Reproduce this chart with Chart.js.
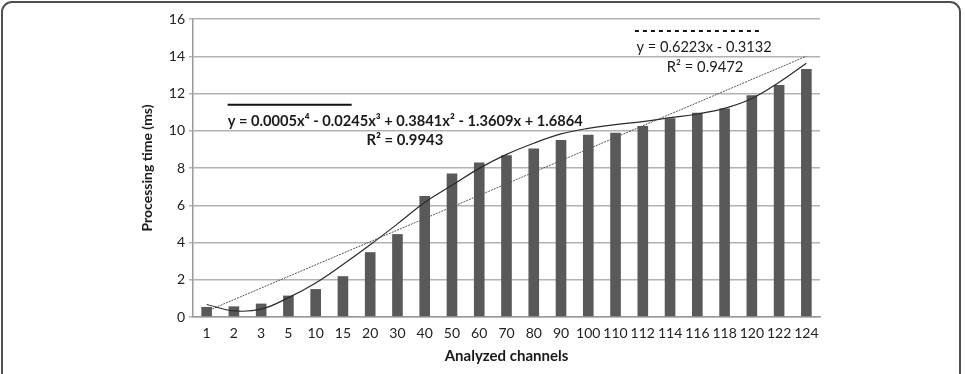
<!DOCTYPE html>
<html>
<head>
<meta charset="utf-8">
<script src="https://cdn.jsdelivr.net/npm/chart.js@4"></script>
<style>
  html, body { margin: 0; padding: 0; background: #fff; }
  #wrap { position: relative; width: 965px; height: 374px; overflow: hidden; }
  #frame {
    position: absolute; left: 1px; top: 1px; width: 960px; height: 420px;
    border: 2px solid #505050; border-radius: 11px; box-sizing: border-box;
  }
  #chart { position: absolute; left: 0; top: 0; }
</style>
</head>
<body>
<div id="wrap">
  <div id="frame"></div>
  <canvas id="chart" width="965" height="374"></canvas>
</div>
<script>
(function () {
  "use strict";

  // ── Data ───────────────────────────────────────────────────────
  var channels = ["1", "2", "3", "5", "10", "15", "20", "30", "40", "50", "60", "70",
    "80", "90", "100", "110", "112", "114", "116", "118", "120", "122", "124"];
  var timeMs = [0.54, 0.57, 0.72, 1.15, 1.5, 2.19, 3.48, 4.45, 6.49, 7.71, 8.3, 8.68,
    9.05, 9.5, 9.78, 9.89, 10.25, 10.67, 10.97, 11.2, 11.9, 12.46, 13.32];
  var polyTrend = [0.67, 0.33, 0.42, 1.04, 1.83, 2.82, 3.88, 5.0, 6.15, 7.07, 7.98, 8.73,
    9.33, 9.83, 10.13, 10.33, 10.49, 10.7, 10.9, 11.2, 11.73, 12.6, 13.63];
  var linearTrendEnds = [0.31, 14.0];
  var yTicks = { min: 0, max: 16, step: 2 };
  var polyLabel = ["y = 0.0005x\u2074 - 0.0245x\u00b3 + 0.3841x\u00b2 - 1.3609x + 1.6864", "R\u00b2 = 0.9943"];
  var linearLabel = ["y = 0.6223x - 0.3132", "R\u00b2 = 0.9472"];

  var FONT = "Lato, 'Open Sans', sans-serif";
  var n = channels.length;
  var linearData = channels.map(function (_, i) {
    return i === 0 ? linearTrendEnds[0] : (i === n - 1 ? linearTrendEnds[1] : null);
  });

  // text stretched to the width it takes in the figure (x in category units)
  function fitText(ctx, text, weight, x, y, i0, i1, v) {
    var a = x.getPixelForValue(i0), b = x.getPixelForValue(i1);
    ctx.font = weight + " 14px " + FONT;
    var size = 14 * (b - a) / ctx.measureText(text).width;
    ctx.font = weight + " " + size.toFixed(2) + "px " + FONT;
    ctx.fillText(text, (a + b) / 2, y.getPixelForValue(v));
  }

  // ── Equation labels drawn from scale positions ────────────────
  var trendLabels = {
    id: "trendLabels",
    afterDatasetsDraw: function (chart) {
      var ctx = chart.ctx, x = chart.scales.x, y = chart.scales.y;
      ctx.save();
      ctx.fillStyle = "#1a1a1a";
      ctx.strokeStyle = "#111";
      ctx.textAlign = "center";
      ctx.textBaseline = "middle";

      // polynomial: solid key + bold text
      ctx.lineWidth = 2;
      ctx.beginPath();
      ctx.moveTo(x.getPixelForValue(0.77), y.getPixelForValue(11.4));
      ctx.lineTo(x.getPixelForValue(5.32), y.getPixelForValue(11.4));
      ctx.stroke();
      fitText(ctx, polyLabel[0], "bold", x, y, 0.77, 13.8, 10.5);
      fitText(ctx, polyLabel[1], "bold", x, y, 5.86, 8.68, 9.5);

      // linear: dashed key + regular text
      ctx.setLineDash([4, 4]);
      ctx.beginPath();
      ctx.moveTo(x.getPixelForValue(15.71), y.getPixelForValue(15.35));
      ctx.lineTo(x.getPixelForValue(20.3), y.getPixelForValue(15.35));
      ctx.stroke();
      ctx.setLineDash([]);
      fitText(ctx, linearLabel[0], "normal", x, y, 15.77, 20.73, 14.5);
      fitText(ctx, linearLabel[1], "normal", x, y, 16.88, 19.69, 13.4);
      ctx.restore();
    }
  };

  new Chart(document.getElementById("chart"), {
    type: "bar",
    data: {
      labels: channels,
      datasets: [
        {
          type: "line",
          label: "Poly. trend",
          data: polyTrend,
          borderColor: "#2b2b2b",
          borderWidth: 1.2,
          pointRadius: 0,
          tension: 0.4,
          order: 1,
        },
        {
          type: "line",
          label: "Linear trend",
          data: linearData,
          spanGaps: true,
          borderColor: "#555",
          borderWidth: 1,
          borderDash: [2, 1],
          pointRadius: 0,
          order: 2,
        },
        {
          label: "Processing time (ms)",
          data: timeMs,
          backgroundColor: "#595959",
          barPercentage: 0.39,
          categoryPercentage: 1,
          order: 3,
        },
      ],
    },
    options: {
      responsive: false,
      animation: false,
      layout: { padding: { left: 133, right: 145, top: 19, bottom: 0 } },
      plugins: { legend: { display: false }, tooltip: { enabled: false } },
      scales: {
        x: {
          afterFit: function (s) { s.height = 57; },
          grid: { display: false, drawTicks: false },
          border: { color: "#9a9a9a", width: 1.5 },
          ticks: { color: "#222", font: { family: FONT, size: 14 }, padding: 8, maxRotation: 0, autoSkip: false },
          title: { display: true, text: "Analyzed channels", color: "#1a1a1a",
            font: { family: FONT, size: 15, weight: "bold" }, padding: { top: 0, bottom: 9 } },
        },
        y: {
          min: yTicks.min, max: yTicks.max,
          afterFit: function (s) { s.width = 60; },
          grid: { color: "#b2b2b2", lineWidth: 1.5, tickLength: 4 },
          border: { color: "#9a9a9a", width: 1.5 },
          ticks: { stepSize: yTicks.step, color: "#222", font: { family: FONT, size: 14 }, padding: 4 },
          title: { display: true, text: "Processing time (ms)", color: "#1a1a1a",
            font: { family: FONT, size: 14, weight: "bold" }, padding: { top: 6, bottom: 0 } },
        },
      },
    },
    plugins: [trendLabels],
  });
})();
</script>
</body>
</html>
